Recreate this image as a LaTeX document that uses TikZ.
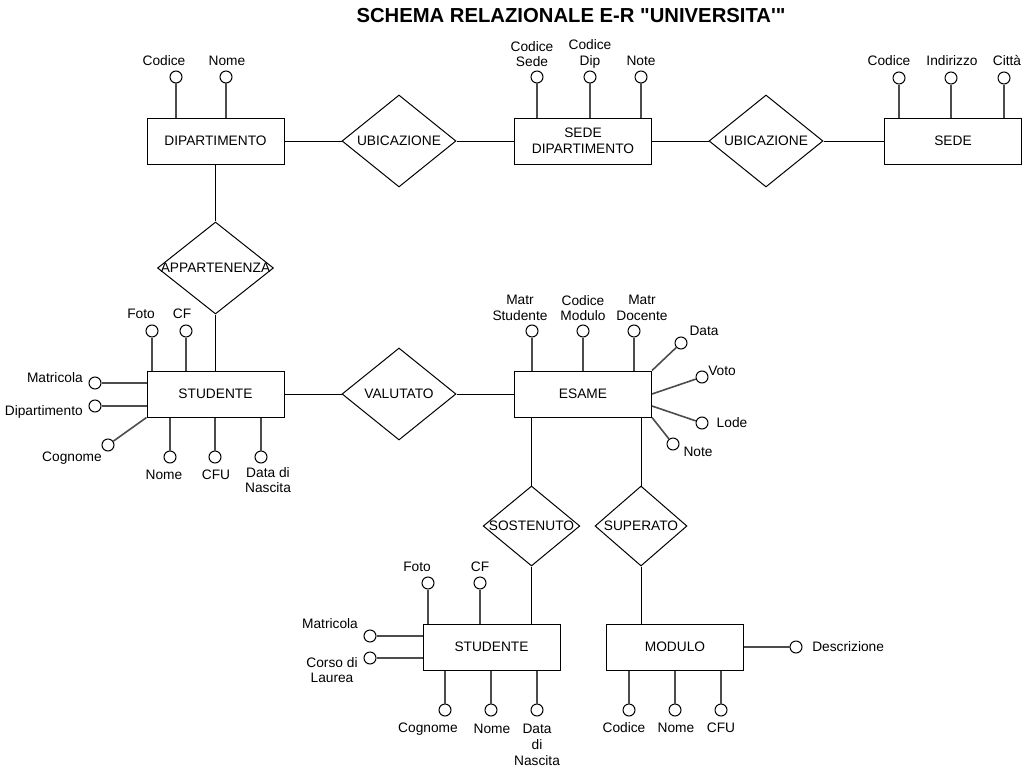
\documentclass[tikz,border=0pt]{standalone}
\usepackage{fontspec}
\setmainfont{Liberation Sans}[Ligatures=TeXOff]
\usetikzlibrary{shapes.geometric}
\newcommand{\lblfont}{\fontsize{10.3}{11.8}\selectfont}
\tikzset{
  entity/.style={draw, rectangle, line width=0.75pt, minimum width=102.75pt,
    minimum height=34.5pt, align=center, font=\lblfont},
  relation/.style={draw, diamond, line width=0.75pt, minimum width=85.5pt,
    minimum height=69pt, inner sep=0pt},
  smallrel/.style={relation, minimum width=71pt, minimum height=60pt},
  attrib/.style={draw, circle, line width=0.75pt, minimum size=9pt, inner sep=0pt},
  attrline/.style={draw=black!70, line width=1.2pt},
  link/.style={draw, line width=0.75pt},
  lbl/.style={font=\lblfont, align=center, inner sep=0pt},
}
\begin{document}
\begin{tikzpicture}[x=0.75pt, y=-0.75pt]
  \useasboundingbox (0,0) rectangle (1027,774);
  \node[font=\fontsize{15.2}{18}\selectfont\bfseries, inner sep=0pt] (title) at (571,16)
    {SCHEMA RELAZIONALE E-R "UNIVERSITA'"};

  % entita'
  \node[entity] (dip)    at (215.5,141) {DIPARTIMENTO};
  \node[entity] (sedip)  at (583,141)   {SEDE\\DIPARTIMENTO};
  \node[entity] (sede)   at (953,141)   {SEDE};
  \node[entity] (stu1)   at (215.5,394) {STUDENTE};
  \node[entity] (esame)  at (583,394)   {ESAME};
  \node[entity] (stu2)   at (491.5,647) {STUDENTE};
  \node[entity] (modulo) at (675,647)   {MODULO};

  % relazioni
  \node[relation] (ubi1) at (399,141) {};
  \node[lbl] (ubi1t) at (ubi1) {UBICAZIONE};
  \node[relation] (ubi2) at (766,141) {};
  \node[lbl] (ubi2t) at (ubi2) {UBICAZIONE};
  \node[relation, minimum width=87pt] (app) at (215.5,268) {};
  \node[lbl] (appt) at (app) {APPARTENENZA};
  \node[relation] (val) at (399,394) {};
  \node[lbl] (valt) at (val) {VALUTATO};
  \node[smallrel, minimum width=72.5pt] (sost) at (531.5,526) {};
  \node[lbl] (sostt) at (sost) {SOSTENUTO};
  \node[smallrel, minimum width=69pt] (sup) at (641,526) {};
  \node[lbl] (supt) at (sup) {SUPERATO};

  \draw[link] (dip) -- (ubi1) -- (sedip) -- (ubi2) -- (sede);
  \draw[link] (dip) -- (app) -- (stu1);
  \draw[link] (stu1) -- (val) -- (esame);
  \draw[link] (esame.south -| sost.north) -- (sost.north);
  \draw[link] (sost.south) -- (sost.south |- stu2.north);
  \draw[link] (esame.south -| sup.north) -- (sup.north);
  \draw[link] (sup.south) -- (sup.south |- modulo.north);

  % attributi DIPARTIMENTO
  \node[attrib] (dCod) at (176,77) {};
  \node[attrib] (dNom) at (226,77) {};
  \node[lbl] (dCodt) at (164,61) {Codice};
  \node[lbl] (dNomt) at (227,61) {Nome};
  \draw[attrline] (dCod) -- (dCod |- dip.north);
  \draw[attrline] (dNom) -- (dNom |- dip.north);

  % attributi SEDE DIPARTIMENTO
  \node[attrib] (sdCs) at (537,77) {};
  \node[attrib] (sdCd) at (590,77) {};
  \node[attrib] (sdNot) at (641,77) {};
  \node[lbl] (sdCst) at (532,54) {Codice\\Sede};
  \node[lbl] (sdCdt) at (590,54) {Codice\\Dip};
  \node[lbl] (sdNott) at (641,61) {Note};
  \draw[attrline] (sdCs) -- (sdCs |- sedip.north);
  \draw[attrline] (sdCd) -- (sdCd |- sedip.north);
  \draw[attrline] (sdNot) -- (sdNot |- sedip.north);

  % attributi SEDE
  \node[attrib] (sCod) at (899,78) {};
  \node[attrib] (sInd) at (951,78) {};
  \node[attrib] (sCit) at (1004,78) {};
  \node[lbl] (sCodt) at (889,61) {Codice};
  \node[lbl] (sIndt) at (952,61) {Indirizzo};
  \node[lbl] (sCitt) at (1007,61) {Città};
  \draw[attrline] (sCod) -- (sCod |- sede.north);
  \draw[attrline] (sInd) -- (sInd |- sede.north);
  \draw[attrline] (sCit) -- (sCit |- sede.north);

  % attributi STUDENTE (sopra)
  \node[attrib] (s1Foto) at (152,331) {};
  \node[attrib] (s1CF) at (186,331) {};
  \node[attrib] (s1Mat) at (95,383) {};
  \node[attrib] (s1Dip) at (95,406) {};
  \node[attrib] (s1Cog) at (108,445) {};
  \node[attrib] (s1Nom) at (170,457) {};
  \node[attrib] (s1CFU) at (215,457) {};
  \node[attrib] (s1Dat) at (261,457) {};
  \node[lbl] (s1Fotot) at (141,314) {Foto};
  \node[lbl] (s1CFt) at (182,314) {CF};
  \node[lbl, anchor=east] (s1Matt) at (83,378) {Matricola};
  \node[lbl, anchor=east] (s1Dipt) at (83,412) {Dipartimento};
  \node[lbl] (s1Cogt) at (72,458) {Cognome};
  \node[lbl] (s1Nomt) at (164,475) {Nome};
  \node[lbl] (s1CFUt) at (216,475) {CFU};
  \node[lbl] (s1Datt) at (268,480) {Data di\\Nascita};
  \draw[attrline] (s1Foto) -- (s1Foto |- stu1.north);
  \draw[attrline] (s1CF) -- (s1CF |- stu1.north);
  \draw[attrline] (s1Mat) -- (s1Mat -| stu1.west);
  \draw[attrline] (s1Dip) -- (s1Dip -| stu1.west);
  \draw[attrline] (s1Cog) -- (stu1.south west);
  \draw[attrline] (s1Nom) -- (s1Nom |- stu1.south);
  \draw[attrline] (s1CFU) -- (s1CFU |- stu1.south);
  \draw[attrline] (s1Dat) -- (s1Dat |- stu1.south);

  % attributi ESAME
  \node[attrib] (eMs) at (532,331) {};
  \node[attrib] (eCm) at (583,331) {};
  \node[attrib] (eMd) at (634,331) {};
  \node[attrib] (eDat) at (681,343) {};
  \node[attrib] (eVot) at (702,377) {};
  \node[attrib] (eLod) at (702,423) {};
  \node[attrib] (eNot) at (673,444) {};
  \node[lbl] (eMst) at (520,308) {Matr\\Studente};
  \node[lbl] (eCmt) at (583,308) {Codice\\Modulo};
  \node[lbl] (eMdt) at (642,308) {Matr\\Docente};
  \node[lbl] (eDatt) at (704,331) {Data};
  \node[lbl] (eVott) at (722,371) {Voto};
  \node[lbl] (eLodt) at (732,423) {Lode};
  \node[lbl] (eNott) at (698,452) {Note};
  \draw[attrline] (eMs) -- (eMs |- esame.north);
  \draw[attrline] (eCm) -- (eCm |- esame.north);
  \draw[attrline] (eMd) -- (eMd |- esame.north);
  \draw[attrline] (eDat) -- (esame.north east);
  \draw[attrline] (eVot) -- (esame.east);
  \draw[attrline] (eLod) -- ([yshift=-9pt]esame.east);
  \draw[attrline] (eNot) -- (esame.south east);

  % attributi STUDENTE (sotto)
  \node[attrib] (s2Foto) at (428,583) {};
  \node[attrib] (s2CF) at (480,583) {};
  \node[attrib] (s2Mat) at (370,636) {};
  \node[attrib] (s2Cor) at (370,658) {};
  \node[attrib] (s2Cog) at (445,710) {};
  \node[attrib] (s2Nom) at (491,710) {};
  \node[attrib] (s2Dat) at (537,710) {};
  \node[lbl] (s2Fotot) at (417,567) {Foto};
  \node[lbl] (s2CFt) at (480,567) {CF};
  \node[lbl] (s2Matt) at (330,624) {Matricola};
  \node[lbl] (s2Cort) at (332,670) {Corso di\\Laurea};
  \node[lbl] (s2Cogt) at (428,729) {Cognome};
  \node[lbl] (s2Nomt) at (492,729) {Nome};
  \node[lbl, font=\fontsize{10.3}{12}\selectfont] (s2Datt) at (537,745) {Data\\di\\Nascita};
  \draw[attrline] (s2Foto) -- (s2Foto |- stu2.north);
  \draw[attrline] (s2CF) -- (s2CF |- stu2.north);
  \draw[attrline] (s2Mat) -- (s2Mat -| stu2.west);
  \draw[attrline] (s2Cor) -- (s2Cor -| stu2.west);
  \draw[attrline] (s2Cog) -- (s2Cog |- stu2.south);
  \draw[attrline] (s2Nom) -- (s2Nom |- stu2.south);
  \draw[attrline] (s2Dat) -- (s2Dat |- stu2.south);

  % attributi MODULO
  \node[attrib] (mCod) at (629,710) {};
  \node[attrib] (mNom) at (675,710) {};
  \node[attrib] (mCFU) at (721,710) {};
  \node[attrib] (mDes) at (796,647) {};
  \node[lbl] (mCodt) at (624,728) {Codice};
  \node[lbl] (mNomt) at (676,728) {Nome};
  \node[lbl] (mCFUt) at (721,728) {CFU};
  \node[lbl, anchor=west] (mDest) at (812,647) {Descrizione};
  \draw[attrline] (mCod) -- (mCod |- modulo.south);
  \draw[attrline] (mNom) -- (mNom |- modulo.south);
  \draw[attrline] (mCFU) -- (mCFU |- modulo.south);
  \draw[attrline] (mDes) -- (modulo.east);
\end{tikzpicture}
\end{document}
